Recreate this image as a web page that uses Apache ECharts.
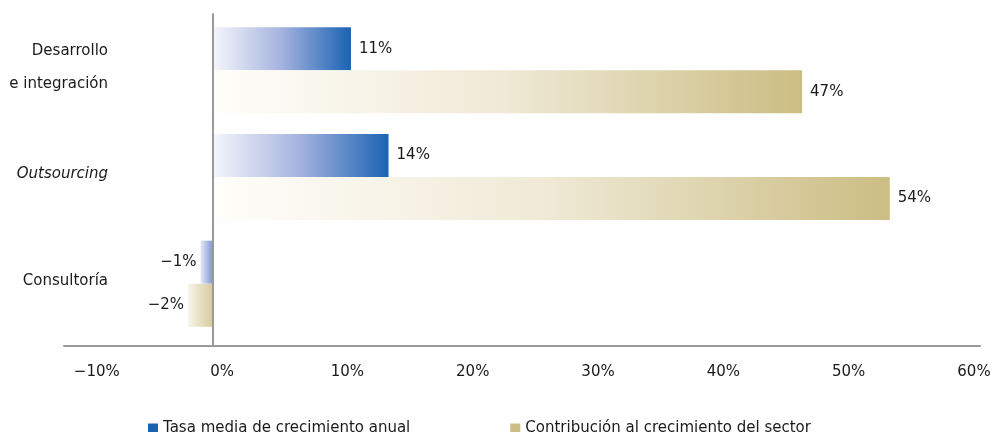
<!DOCTYPE html>
<html>
<head>
<meta charset="utf-8">
<script src="https://cdn.jsdelivr.net/npm/echarts@6/dist/echarts.min.js"></script>
<style>
  html, body { margin: 0; padding: 0; background: #fff; }
  #chart { width: 994px; height: 432px; }
</style>
</head>
<body>
<div id="chart"></div>
<script>
// datos del grafico
const categorias = ['Desarrollo\ne integración', 'Outsourcing', 'Consultoría']
const tasaMedia = [11, 14, -1]
const contribucion = [47, 54, -2]
const ticksX = [-10, 0, 10, 20, 30, 40, 50, 60]
const nombres = ['Tasa media de crecimiento anual', 'Contribución al crecimiento del sector']

const font = 'DejaVu Sans'
const xMin = -11.9
const xMax = 61.2

// degradado horizontal por barra
function grad(stops) {
  return new echarts.graphic.LinearGradient(0, 0, 1, 0, stops.map((c, i) => ({ offset: i / (stops.length - 1), color: c })))
}
const azulPos = ['#f5f6fc', '#a4b2de', '#1a63b4']
const azulNeg = ['#e4e8f6', '#7a95d3']
const oroPos = ['#fffefb', '#efe9d5', '#cbbd83']
const oroNeg = ['#f8f5ea', '#d6c99a']

function serieData(valores, pos, neg) {
  return valores.map(v => ({
    value: v,
    itemStyle: { color: grad(v < 0 ? neg : pos) },
    label: { distance: v < 0 ? 4 : 8 }
  }))
}

const pct = v => (v < 0 ? '\u2212' + Math.abs(v) : v) + '%'

const chart = echarts.init(document.getElementById('chart'))

const option = {
  backgroundColor: '#fff',
  animation: false,
  textStyle: { fontFamily: font },
  grid: [
    { left: 64, right: 14, top: 17, height: 320, containLabel: false, outerBoundsMode: 'none' },
    { left: 64, right: 14, top: 14, height: 332, containLabel: false, outerBoundsMode: 'none' }
  ],
  legend: {
    data: nombres,
    left: 143,
    top: 416,
    icon: 'rect',
    itemWidth: 10,
    itemHeight: 10,
    itemGap: 100,
    textStyle: { fontFamily: font, fontSize: 15, color: '#1a1a1a' }
  },
  xAxis: [
    {
      type: 'value',
      gridIndex: 0,
      min: xMin,
      max: xMax,
      offset: 9,
      axisLine: { show: true, lineStyle: { color: '#9a9a9a', width: 2 } },
      axisTick: { show: false },
      splitLine: { show: false },
      axisLabel: {
        customValues: ticksX,
        formatter: pct,
        fontFamily: font,
        fontSize: 15,
        color: '#1a1a1a',
        margin: 19,
        padding: [0, 0, 0, 18]
      }
    },
    {
      type: 'value',
      gridIndex: 1,
      min: xMin,
      max: xMax,
      show: false
    }
  ],
  yAxis: [
    {
      type: 'category',
      gridIndex: 0,
      data: categorias,
      inverse: true,
      axisLine: { show: false, onZero: false },
      axisTick: { show: false },
      axisLabel: {
        margin: -44,
        fontFamily: font,
        fontSize: 15,
        color: '#1a1a1a',
        lineHeight: 33,
        padding: [0, 0, 6, 0],
        formatter: v => v === 'Outsourcing' ? '{it|' + v + '}' : v,
        rich: {
          it: { fontStyle: 'italic', fontFamily: font, fontSize: 15, color: '#1a1a1a' }
        }
      }
    },
    {
      type: 'value',
      gridIndex: 1,
      min: 0,
      max: 1,
      z: 5,
      axisLine: { show: true, lineStyle: { color: '#9a9a9a', width: 2 } },
      axisTick: { show: false },
      axisLabel: { show: false },
      splitLine: { show: false }
    }
  ],
  series: [
    {
      name: nombres[0],
      type: 'bar',
      xAxisIndex: 0,
      yAxisIndex: 0,
      barWidth: 43,
      barGap: '0%',
      itemStyle: { color: '#1a63b4' },
      label: {
        show: true,
        position: 'outside',
        formatter: p => pct(p.value),
        fontFamily: font,
        fontSize: 15,
        color: '#1a1a1a'
      },
      data: serieData(tasaMedia, azulPos, azulNeg)
    },
    {
      name: nombres[1],
      type: 'bar',
      xAxisIndex: 0,
      yAxisIndex: 0,
      barWidth: 43,
      barGap: '0%',
      itemStyle: { color: '#cbbd83' },
      label: {
        show: true,
        position: 'outside',
        formatter: p => pct(p.value),
        fontFamily: font,
        fontSize: 15,
        color: '#1a1a1a'
      },
      data: serieData(contribucion, oroPos, oroNeg)
    }
  ]
}

chart.setOption(option)
</script>
</body>
</html>
